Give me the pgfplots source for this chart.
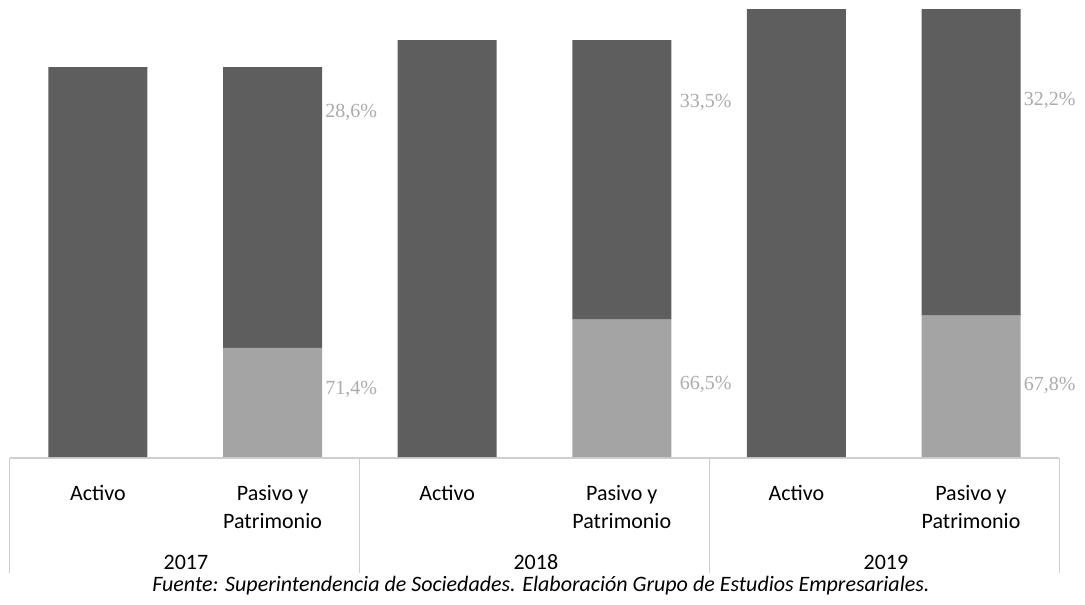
\documentclass[border=0pt]{standalone}
\usepackage{pgfplots}
\pgfplotsset{compat=1.18}
\usepackage{fontspec}
\setmainfont{Carlito}
\newfontfamily\timesf{Liberation Serif}
\definecolor{darkbar}{HTML}{5E5E5E}
\definecolor{lightbar}{HTML}{A4A4A4}
\definecolor{pctgrey}{HTML}{ABABAB}
\definecolor{sepgrey}{HTML}{CFCFCF}
\tikzset{
  pct/.style={anchor=west, text=pctgrey, font=\timesf\fontsize{10}{12}\selectfont, inner sep=0pt},
  val/.style={font=\fontsize{10.5}{12}\selectfont\bfseries},
  cat/.style={anchor=north, align=center, font=\fontsize{11}{14}\selectfont, inner sep=0pt},
  sep/.style={sepgrey, line width=0.5pt},
}
\begin{document}
\begin{tikzpicture}
\useasboundingbox (0,-73.5pt) rectangle (542.5pt,228.5pt);
\begin{axis}[
  at={(0,0)}, anchor=south west,
  scale only axis,
  width=542.5pt, height=228.5pt,
  xmin=-0.561, xmax=5.653,
  ymin=0, ymax=457,
  ybar stacked,
  bar width=49.5pt,
  axis lines=none,
  clip=false,
  xtick=\empty, ytick=\empty,
]
\addplot[fill=darkbar, draw=none] coordinates {(0,389) (1,0) (2,416) (3,0) (4,447) (5,0)};
\addplot[fill=lightbar, draw=none] coordinates {(0,0) (1,109) (2,0) (3,137) (4,0) (5,141)};
\addplot[fill=darkbar, draw=none] coordinates {(0,0) (1,280) (2,0) (3,279) (4,0) (5,306)};

% value labels
\node[val] at (axis cs:1,275) {\$242};
\node[val] at (axis cs:3,270) {\$240};
\node[val] at (axis cs:5,290) {\$263};

% percentage labels
\node[pct] at (axis cs:1.30,344) {28,6\%};
\node[pct] at (axis cs:1.30,67) {71,4\%};
\node[pct] at (axis cs:3.33,354) {33,5\%};
\node[pct] at (axis cs:3.33,72) {66,5\%};
\node[pct] at (axis cs:5.30,356) {32,2\%};
\node[pct] at (axis cs:5.30,71) {67,8\%};

% category axis lines
\draw[sepgrey, line width=0.6pt] (axis cs:-0.504,-1) -- (axis cs:5.504,-1);
\draw[sep] (axis cs:-0.504,-1) -- (axis cs:-0.504,-116);
\draw[sep] (axis cs:1.5,-1) -- (axis cs:1.5,-116);
\draw[sep] (axis cs:3.5,-1) -- (axis cs:3.5,-116);
\draw[sep] (axis cs:5.504,-1) -- (axis cs:5.504,-116);

% category labels
\node[cat] at (axis cs:0,-28) {Activo};
\node[cat] at (axis cs:2,-28) {Activo};
\node[cat] at (axis cs:4,-28) {Activo};
\node[cat] at (axis cs:1,-28) {Pasivo y\\Patrimonio};
\node[cat] at (axis cs:3,-28) {Pasivo y\\Patrimonio};
\node[cat] at (axis cs:5,-28) {Pasivo y\\Patrimonio};
\node[font=\fontsize{11}{14}\selectfont] at (axis cs:0.504,-105) {2017};
\node[font=\fontsize{11}{14}\selectfont] at (axis cs:2.508,-105) {2018};
\node[font=\fontsize{11}{14}\selectfont] at (axis cs:4.513,-105) {2019};
\node[font=\fontsize{11}{14}\selectfont\itshape] at (axis cs:2.537,-128) {Fuente: Superintendencia de Sociedades. Elaboración Grupo de Estudios Empresariales.};
\end{axis}
\end{tikzpicture}
\end{document}
